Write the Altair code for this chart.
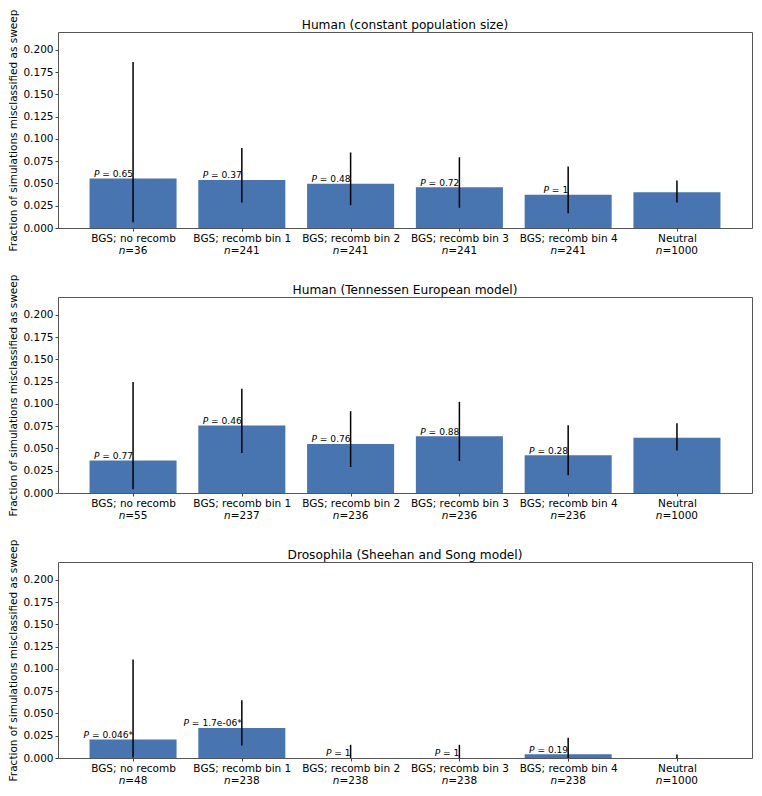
import altair as alt
import pandas as pd

FONT = "DejaVu Sans"

categories = ["BGS; no recomb", "BGS; recomb bin 1", "BGS; recomb bin 2",
              "BGS; recomb bin 3", "BGS; recomb bin 4", "Neutral"]

panel_titles = ["Human (constant population size)",
                "Human (Tennessen European model)",
                "Drosophila (Sheehan and Song model)"]

y_title = "Fraction of simulations misclassified as sweep"
y_ticks = [0.0, 0.025, 0.05, 0.075, 0.1, 0.125, 0.15, 0.175, 0.2]

# Human (constant population size)
n_const = [36, 241, 241, 241, 241, 1000]
frac_const = [0.0556, 0.0539, 0.0498, 0.0456, 0.0373, 0.0400]
lo_const = [0.0065, 0.0285, 0.0256, 0.0227, 0.0166, 0.0285]
hi_const = [0.1863, 0.0899, 0.0848, 0.0794, 0.0690, 0.0534]
p_const = ["0.65", "0.37", "0.48", "0.72", "1", ""]

# Human (Tennessen European model)
n_tenn = [55, 237, 236, 236, 236, 1000]
frac_tenn = [0.0364, 0.0759, 0.0551, 0.0636, 0.0424, 0.0620]
lo_tenn = [0.0043, 0.0450, 0.0292, 0.0360, 0.0198, 0.0476]
hi_tenn = [0.1247, 0.1171, 0.0919, 0.1023, 0.0760, 0.0782]
p_tenn = ["0.77", "0.46", "0.76", "0.88", "0.28", ""]

# Drosophila (Sheehan and Song model)
n_dros = [48, 238, 238, 238, 238, 1000]
frac_dros = [0.0208, 0.0336, 0.0, 0.0, 0.0042, 0.0]
lo_dros = [0.0005, 0.0141, 0.0, 0.0, 0.0001, 0.0]
hi_dros = [0.1107, 0.0647, 0.0148, 0.0148, 0.0228, 0.0040]
p_dros = ["0.046*", "1.7e-06*", "1", "1", "0.19", ""]

W = 694
H = 196
X_MIN, X_MAX = -0.69, 5.69
PX_PER_UNIT = W / (X_MAX - X_MIN)
BAR = "#4874B0"
FS_TICK = 10.5
FS_P = 9.1
FS_TITLE = 12.2

# DejaVu Sans advance widths (em) used to place italic symbols next to upright text
CHAR_EM = {c: 0.6362 for c in "0123456789"}
CHAR_EM.update({".": 0.3179, " ": 0.3179, "=": 0.8379, "e": 0.6152,
                "-": 0.3608, "*": 0.5, "P": 0.603, "n": 0.6338})


def text_em(s):
    return sum(CHAR_EM.get(c, 0.6) for c in s)


def make_panel(title, frac, lo, hi, pvals, ns):
    rows = []
    for i, cat in enumerate(categories):
        rest = ("= " + pvals[i]) if pvals[i] else ""
        n_rest = "=" + str(ns[i])
        n_w = (text_em("n") + text_em(n_rest)) * FS_TICK
        rows.append(dict(
            idx=i, cat=cat, frac=frac[i], lo=lo[i], hi=hi[i], zero=0.0,
            p_rest=rest, p_sym="P" if pvals[i] else "",
            p_off=-text_em(" " + rest) * FS_P if rest else 0.0,
            n_sym="n", n_rest=n_rest,
            n_off=-n_w / 2, nrest_off=-n_w / 2 + text_em("n") * FS_TICK,
        ))
    df = pd.DataFrame(rows)
    k = str(PX_PER_UNIT)
    base = alt.Chart(df).transform_calculate(
        x0="datum.idx - 0.4",
        x1="datum.idx + 0.4",
        xp="datum.idx + datum.p_off / " + k,
        xn="datum.idx + datum.n_off / " + k,
        xnr="datum.idx + datum.nrest_off / " + k,
    )

    xscale = alt.Scale(domain=[X_MIN, X_MAX], nice=False, zero=False)
    yscale = alt.Scale(domain=[0, 0.22], nice=False, zero=False)
    label_expr = "[" + ",".join("'" + c + "'" for c in categories) + "][datum.value]"
    xaxis = alt.Axis(values=list(range(6)), labelExpr=label_expr, title=None,
                     grid=False, domain=False, tickSize=3, tickColor="#444",
                     labelPadding=2.5, labelFontSize=FS_TICK, labelFont=FONT,
                     labelColor="black", labelFlush=False, labelOverlap=False,
                     labelBound=False)
    yaxis = alt.Axis(values=y_ticks, format=".3f", title=y_title, grid=False,
                     domain=False, tickSize=3, tickColor="#444", labelPadding=2,
                     labelFontSize=FS_TICK, labelFont=FONT, labelColor="black",
                     titleFontSize=FS_TICK, titleFont=FONT, titleFontWeight="normal",
                     titleColor="black", titlePadding=4, labelFlush=False)

    def X(field):
        return alt.X(field, type="quantitative", scale=xscale, axis=xaxis)

    def Y(field):
        return alt.Y(field, type="quantitative", scale=yscale, axis=yaxis)

    bars = base.mark_rect(color=BAR).encode(
        x=X("x0"), x2="x1:Q", y=Y("frac"), y2="zero:Q")

    errs = base.mark_rule(color="black", strokeWidth=1.5).encode(
        x=X("idx"), y=Y("lo"), y2="hi:Q")

    p_rest = base.mark_text(align="right", baseline="alphabetic", dy=-1.7,
                            fontSize=FS_P, font=FONT, color="black").encode(
        x=X("idx"), y=Y("frac"), text="p_rest:N")
    p_sym = base.mark_text(align="right", baseline="alphabetic", dy=-1.7,
                           fontSize=FS_P, font=FONT, fontStyle="italic",
                           color="black").encode(
        x=X("xp"), y=Y("frac"), text="p_sym:N")

    n_sym = base.mark_text(align="left", baseline="alphabetic", fontSize=FS_TICK,
                           font=FONT, fontStyle="italic", color="black").encode(
        x=X("xn"), y=alt.value(H + 26), text="n_sym:N")
    n_rest = base.mark_text(align="left", baseline="alphabetic", fontSize=FS_TICK,
                            font=FONT, color="black").encode(
        x=X("xnr"), y=alt.value(H + 26), text="n_rest:N")

    return alt.layer(bars, errs, p_rest, p_sym, n_sym, n_rest).properties(
        width=W, height=H,
        title=alt.TitleParams(text=title, fontSize=FS_TITLE, font=FONT,
                              fontWeight="normal", anchor="middle", frame="group",
                              baseline="alphabetic", color="black", offset=-32),
    )


p1 = make_panel(panel_titles[0], frac_const, lo_const, hi_const, p_const, n_const)
p2 = make_panel(panel_titles[1], frac_tenn, lo_tenn, hi_tenn, p_tenn, n_tenn)
p3 = make_panel(panel_titles[2], frac_dros, lo_dros, hi_dros, p_dros, n_dros)

chart = alt.vconcat(p1, p2, p3, spacing=69, bounds="flush").properties(
    padding=0, background="white"
).configure_view(
    stroke="#555", strokeWidth=1
)

chart.save("out.html", embed_options={"renderer": "svg", "actions": False})
